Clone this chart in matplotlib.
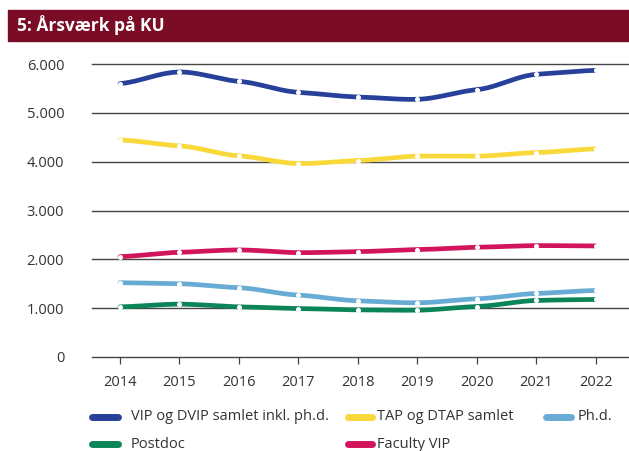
import numpy as np
import matplotlib
matplotlib.use("Agg")
import matplotlib.pyplot as plt
from matplotlib.lines import Line2D
from matplotlib.patches import Rectangle

plt.rcParams['font.family'] = ['Open Sans', 'DejaVu Sans']

years = [2014, 2015, 2016, 2017, 2018, 2019, 2020, 2021, 2022]
vip_dvip = [5598, 5836, 5645, 5420, 5325, 5277, 5475, 5789, 5870]
tap_dtap = [4446, 4323, 4119, 3962, 4023, 4112, 4112, 4187, 4262]
faculty_vip = [2055, 2144, 2192, 2137, 2158, 2199, 2247, 2281, 2274]
phd = [1521, 1500, 1418, 1267, 1151, 1110, 1192, 1301, 1363]
postdoc = [1027, 1082, 1027, 993, 966, 959, 1034, 1158, 1178]

series_labels = ["VIP og DVIP samlet inkl. ph.d.", "TAP og DTAP samlet", "Ph.d.",
                 "Postdoc", "Faculty VIP"]
series_values = [vip_dvip, tap_dtap, phd, postdoc, faculty_vip]
colors = ["#27409a", "#f9d83a", "#68acd6", "#0b8458", "#d2145a"]
yticks = [0, 1000, 2000, 3000, 4000, 5000, 6000]
ytick_labels = ["0", "1.000", "2.000", "3.000", "4.000", "5.000", "6.000"]
title = "5: Årsværk på KU"

W, H = 629, 451
fig = plt.figure(figsize=(W / 100, H / 100), dpi=100)

# title bar
fig.patches.append(Rectangle((8 / W, 1 - 41 / H), 1 - 8 / W, 31 / H,
                             transform=fig.transFigure, color="#7a0c25", zorder=0))
fig.text(17 / W, 1 - 25.5 / H, title, color="white", fontsize=12.5,
         fontweight="bold", va="center", ha="left")

# axes geometry
ymax = 6050
y0_px, y6000_px = 357, 64
px_per = (y0_px - y6000_px) / 6000
top_px = y0_px - ymax * px_per
ax = fig.add_axes([92 / W, 1 - y0_px / H, 1 - 92 / W, (y0_px - top_px) / H])
ax.set_ylim(0, ymax)
ax.set_xlim(2013.53, 2022.555)
for s in ax.spines.values():
    s.set_visible(False)
ax.set_yticks(yticks)
ax.set_yticklabels(ytick_labels)
ax.set_xticks(years)
ax.set_xticklabels([str(y) for y in years])
ax.tick_params(axis="y", length=0, pad=20, labelsize=10.5, labelcolor="#333333")
ax.tick_params(axis="x", length=5, width=0.9, color="#444444", pad=8,
               labelsize=10.5, labelcolor="#333333")
for yv in yticks:
    ax.axhline(yv, color="#454545", lw=1.0, zorder=1, clip_on=False)


def smooth(x, y, tension=0.45, n=24):
    x = np.asarray(x, float)
    y = np.asarray(y, float)
    m = np.zeros_like(y)
    m[1:-1] = tension * (y[2:] - y[:-2]) / 2
    m[0] = tension * (y[1] - y[0])
    m[-1] = tension * (y[-1] - y[-2])
    t = np.linspace(0, 1, n, endpoint=False)
    h00 = 2 * t ** 3 - 3 * t ** 2 + 1
    h10 = t ** 3 - 2 * t ** 2 + t
    h01 = -2 * t ** 3 + 3 * t ** 2
    h11 = t ** 3 - t ** 2
    xs, ys = [], []
    for i in range(len(x) - 1):
        xs.append(x[i] + t * (x[i + 1] - x[i]))
        ys.append(h00 * y[i] + h10 * m[i] + h01 * y[i + 1] + h11 * m[i + 1])
    xs.append([x[-1]])
    ys.append([y[-1]])
    return np.concatenate(xs), np.concatenate(ys)


for vals, c in zip(series_values, colors):
    sx, sy = smooth(years, vals)
    ax.plot(sx, sy, color=c, lw=3.4, solid_capstyle="round", solid_joinstyle="round",
            zorder=3, clip_on=False)
    ax.plot(years, vals, ls="none", marker="o", ms=2.6, mfc="white", mec="white",
            zorder=4, clip_on=False)

# legend (manual)
entries = [
    (0, 0, 0), (1, 1, 0), (2, 2, 0),
    (3, 0, 1), (4, 1, 1),
]
col_handle = [(92, 118), (348, 372), (546, 571)]
col_text = [131, 377, 578]
row_y = [417, 444]
for idx, col, row in entries:
    hx0, hx1 = col_handle[col]
    yy = 1 - row_y[row] / H
    fig.add_artist(Line2D([hx0 / W, hx1 / W], [yy, yy], transform=fig.transFigure,
                          color=colors[idx], lw=5, solid_capstyle="round"))
    fig.text(col_text[col] / W, yy, series_labels[idx], fontsize=10.5,
             color="#333333", va="center", ha="left")

fig.savefig("out.png", dpi=100)
